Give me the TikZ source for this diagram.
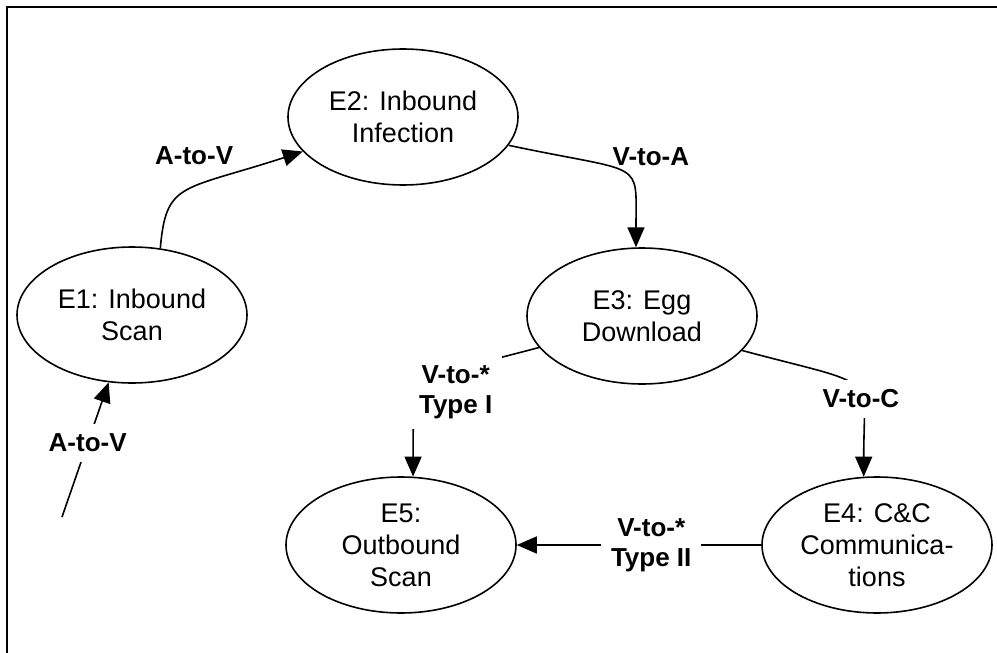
\documentclass[tikz,border=0pt]{standalone}
\usepackage{fontspec}
\setmainfont{Liberation Sans}
\usetikzlibrary{shapes.geometric, arrows.meta, positioning}

\begin{document}
\begin{tikzpicture}[x=0.5pt, y=0.5pt,
    event/.style={ellipse, draw, line width=0.8pt, minimum width=115pt, minimum height=68pt,
        inner sep=0pt, align=center, font=\fontsize{13.5}{16}\selectfont},
    flow/.style={line width=0.8pt, -{Triangle[length=10pt, width=8.5pt]}},
    tag/.style={fill=white, inner sep=5pt, align=center, font=\fontsize{13}{15}\selectfont\bfseries}]
            \useasboundingbox (0,0) rectangle (997,-653);
            \draw[line width=1pt] (7,-653) |- (997,-7);

            \node[event] (e1) at (132,-315) {E1: Inbound\\Scan};
            \node[event] (e2) at (403,-117) {E2: Inbound\\Infection};
            \node[event] (e3) at (642,-316) {E3: Egg\\Download};
            \node[event] (e4) at (877,-545) {E4: C\&C\\Communica-\\tions};
            \node[event] (e5) at (401,-545) {E5:\\Outbound\\Scan};
            \coordinate (src) at (62,-517);

            \draw[flow] (src) -- node[tag, pos=0.55] {A-to-V} (e1);
            \draw[flow] (e1.67) to[out=85, in=198, out looseness=1, in looseness=1.9]
                node[tag, fill=none, inner sep=0pt, above=12pt, xshift=3pt] {A-to-V} (e2.199);
            \draw[flow] (e2.-15) to[out=-12, in=90, out looseness=2.2, in looseness=1.4]
                node[tag, fill=none, inner sep=0pt, anchor=south west, xshift=-6pt, yshift=3.5pt] {V-to-A} (e3.95);
            \draw[flow] (e3.-19) to[out=-15, in=90, out looseness=2.1, in looseness=1.55]
                node[tag, xshift=3pt, yshift=-5.5pt] {V-to-C} (e4.101);
            \draw[flow] (e3.197) to[out=195, in=90, out looseness=1.85, in looseness=1.5]
                node[tag, xshift=13.5pt, yshift=-3.5pt] {V-to-*\\Type I} (e5.80);
            \draw[flow] (e4) -- node[tag, pos=0.45] {V-to-*\\Type II} (e5);
        \end{tikzpicture}
\end{document}
